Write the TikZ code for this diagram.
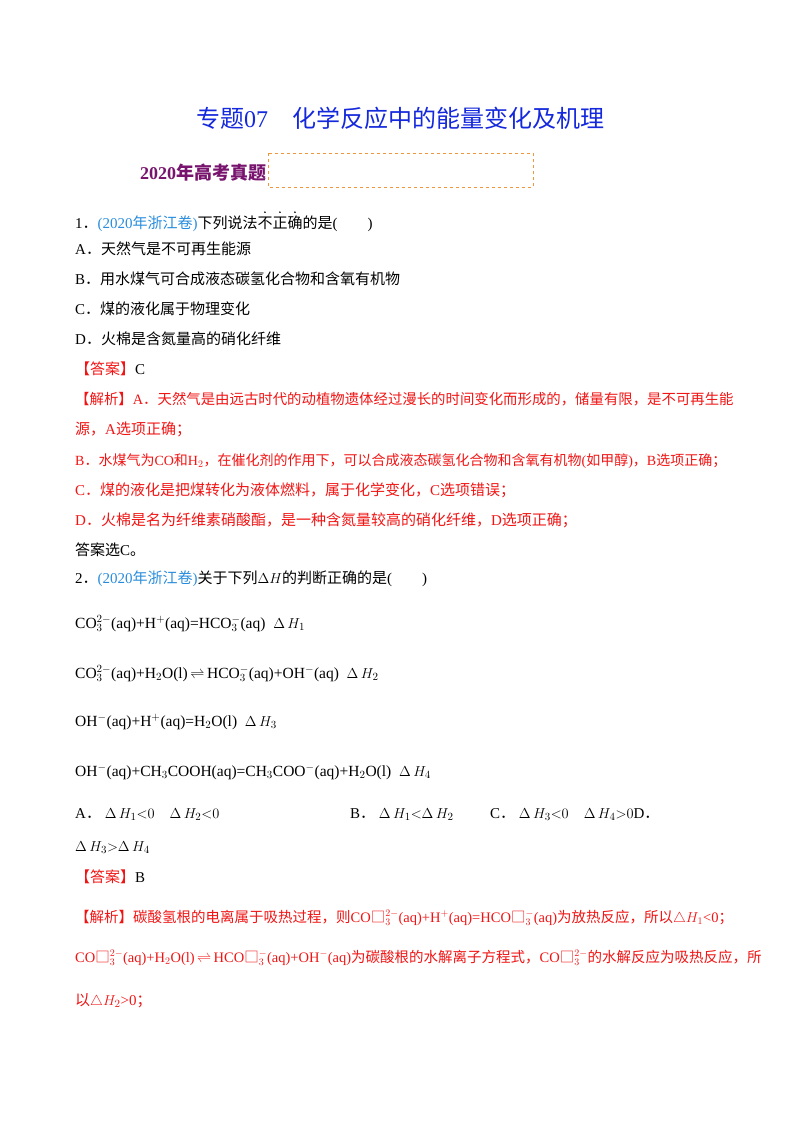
\documentclass[tikz,border=0pt]{standalone}
\usepackage{fontspec}
\setmainfont{Liberation Serif}
\newfontfamily\cjk{Noto Sans CJK SC}
\newcommand{\z}[1]{{\cjk #1}}
\definecolor{tblue}{RGB}{20,40,220}
\definecolor{sblue}{RGB}{40,140,220}
\definecolor{pur}{RGB}{120,20,110}
\definecolor{dorange}{RGB}{240,150,60}
\definecolor{jred}{RGB}{240,20,20}
\newcommand{\dotted}[1]{\tikz[baseline=(w.base)]{\node[inner sep=0](w){\z{#1}};\foreach \i in {0,1,2}{\fill ([xshift={(\i+0.5)*15pt},yshift=3pt]w.north west) circle (0.9pt);}}}
\newcommand{\sq}{\z{□}}
\begin{document}
\begin{tikzpicture}[x=1pt,y=-1pt,
  t/.style={anchor=base west,inner sep=0,font=\fontsize{15}{17}\selectfont},
  r/.style={t,text=jred},
  eq/.style={t,font=\fontsize{15.5}{17}\selectfont}]
\useasboundingbox (0,0) rectangle (800,1132);
\node[anchor=base,inner sep=0,text=tblue,font=\fontsize{24}{26}\selectfont] (title) at (400,127) {\z{专题}07\quad\z{化学反应中的能量变化及机理}};
\node[t,text=pur,font=\fontsize{18}{20}\selectfont\bfseries] (sec) at (140,179) {2020\z{年高考真题}};
\draw[dorange,dashed,thick] (268,153) rectangle (533,187);
\node[t] (q1) at (75,228) {1\z{．}{\color{sblue}(2020\z{年浙江卷})}\z{下列说法}\dotted{不正确}\z{的是}(\qquad)};
\node[t] (a1) at (75,254) {A\z{．}\z{天然气是不可再生能源}};
\node[t] (b1) at (75,284) {B\z{．}\z{用水煤气可合成液态碳氢化合物和含氧有机物}};
\node[t] (c1) at (75,314) {C\z{．}\z{煤的液化属于物理变化}};
\node[t] (d1) at (75,344) {D\z{．}\z{火棉是含氮量高的硝化纤维}};
\node[t] (ans1) at (75,374) {{\color{jred}\z{【答案】}}C};
\node[r,font=\fontsize{14.4}{17}\selectfont] (e1) at (75,404) {\z{【解析】}A\z{．天然气是由远古时代的动植物遗体经过漫长的时间变化而形成的，储量有限，是不可再生能}};
\node[r] (e2) at (75,434) {\z{源，}A\z{选项正确；}};
\node[r,font=\fontsize{14}{17}\selectfont] (e3) at (75,465) {B\z{．水煤气为}CO\z{和}H$_2$\z{，在催化剂的作用下，可以合成液态碳氢化合物和含氧有机物}(\z{如甲醇})\z{，}B\z{选项正确；}};
\node[r] (e4) at (75,495) {C\z{．煤的液化是把煤转化为液体燃料，属于化学变化，}C\z{选项错误；}};
\node[r] (e5) at (75,525) {D\z{．火棉是名为纤维素硝酸酯，是一种含氮量较高的硝化纤维，}D\z{选项正确；}};
\node[t] (e6) at (75,555) {\z{答案选}C\z{。}};
\node[t] (q2) at (75,583) {2\z{．}{\color{sblue}(2020\z{年浙江卷})}\z{关于下列}$\Delta H$\z{的判断正确的是}(\qquad)};
\node[eq] (r1) at (75,628) {CO$_3^{2-}$(aq)+H$^+$(aq)=HCO$_3^-$(aq)\ \ $\Delta\,H_1$};
\node[eq] (r2) at (75,678) {CO$_3^{2-}$(aq)+H$_2$O(l)\,$\rightleftharpoons$\,HCO$_3^-$(aq)+OH$^-$(aq)\ \ $\Delta\,H_2$};
\node[eq] (r3) at (75,726) {OH$^-$(aq)+H$^+$(aq)=H$_2$O(l)\ \ $\Delta\,H_3$};
\node[eq] (r4) at (75,776) {OH$^-$(aq)+CH$_3$COOH(aq)=CH$_3$COO$^-$(aq)+H$_2$O(l)\ \ $\Delta\,H_4$};
\node[t] (o1) at (75,818) {A\z{．}\ $\Delta\,H_1{<}0$\quad$\Delta\,H_2{<}0$};
\node[t] (o2) at (350,818) {B\z{．}\ $\Delta\,H_1{<}\Delta\,H_2$};
\node[t] (o3) at (490,818) {C\z{．}\ $\Delta\,H_3{<}0$\quad$\Delta\,H_4{>}0$D\z{．}};
\node[t] (o4) at (75,851) {$\Delta\,H_3{>}\Delta\,H_4$};
\node[t] (ans2) at (75,882) {{\color{jred}\z{【答案】}}B};
\node[r,font=\fontsize{14.5}{17}\selectfont] (f1) at (75,922) {\z{【解析】碳酸氢根的电离属于吸热过程，则}CO\sq$_3^{2-}$(aq)+H$^+$(aq)=HCO\sq$_3^-$(aq)\z{为放热反应，所以}$\triangle H_1$<0\z{；}};
\node[r,font=\fontsize{14.5}{17}\selectfont] (f2) at (75,962) {CO\sq$_3^{2-}$(aq)+H$_2$O(l)\,$\rightleftharpoons$\,HCO\sq$_3^-$(aq)+OH$^-$(aq)\z{为碳酸根的水解离子方程式，}CO\sq$_3^{2-}$\z{的水解反应为吸热反应，所}};
\node[r] (f3) at (75,1005) {\z{以}$\triangle H_2$>0\z{；}};
\end{tikzpicture}
\end{document}
